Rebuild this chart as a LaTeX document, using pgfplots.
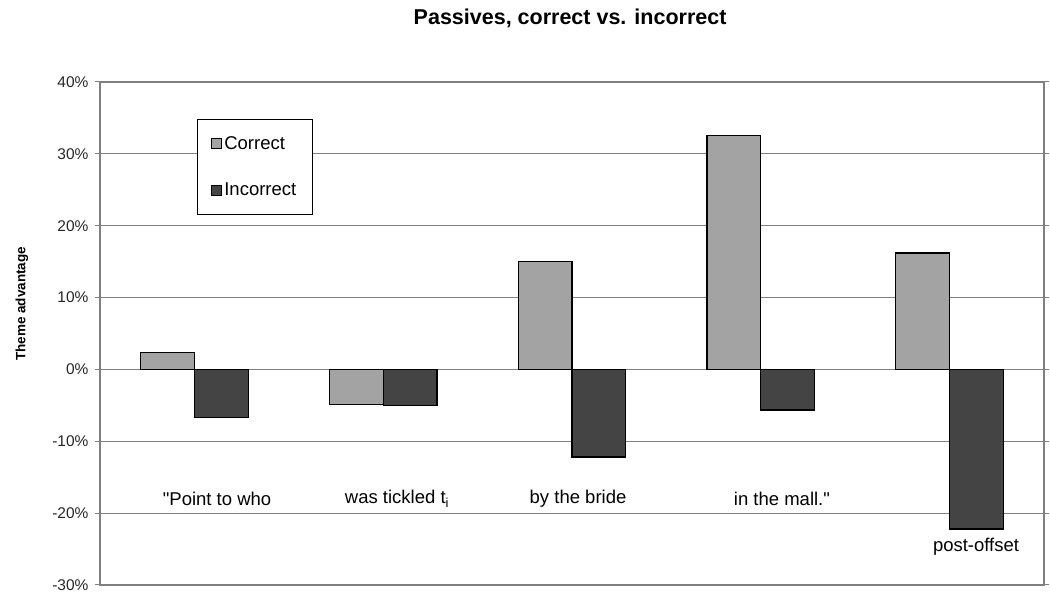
\documentclass[border=0pt]{standalone}
\usepackage{fontspec}
\setmainfont{Liberation Sans}[Ligatures=TeXOff]
\usepackage{pgfplots}
\pgfplotsset{compat=1.18}
\definecolor{corr}{HTML}{A3A3A3}
\definecolor{incorr}{HTML}{444444}
\definecolor{gridc}{HTML}{808080}
\begin{document}
\begin{tikzpicture}
\useasboundingbox (-100pt,-14pt) rectangle (950pt,585pt);
\begin{axis}[
  at={(0pt,0pt)}, anchor=south west,
  scale only axis, width=944pt, height=503pt,
  xmin=-0.5, xmax=4.5, ymin=-30, ymax=40,
  xtick=\empty,
  ytick={-30,-20,...,40},
  yticklabel={\pgfmathprintnumber{\tick}\%},
  /pgf/number format/assume math mode=true,
  yticklabel style={font=\fontsize{15.5}{18}\selectfont, text=black!85, xshift=-3pt},
  tick align=outside, major tick length=5pt,
  tick style={gridc, line width=1pt},
  ymajorgrids, grid style={gridc, line width=1.2pt},
  axis line style={gridc, line width=1.2pt},
  ybar, bar width=0.285,
  ylabel={Theme advantage},
  ylabel style={at={(axis description cs:-0.0826,0.559)}, anchor=center, font=\bfseries\fontsize{13.5}{16}\selectfont},
  title={Passives, correct vs. incorrect},
  title style={at={(axis description cs:0.498,1.115)}, anchor=center, font=\bfseries\fontsize{21.5}{24}\selectfont},
  legend style={at={(axis description cs:0.1028,0.926)}, anchor=north west,
    draw=black, line width=0.8pt, fill=white, font=\fontsize{18.5}{22}\selectfont,
    inner xsep=14pt, inner ysep=15pt, row sep=28pt,
    nodes={inner sep=2pt}},
  legend cell align=left,
  legend image code/.code={\draw[#1, line width=0.9pt] (0pt,-5pt) rectangle (10pt,5pt);},
]
\addplot[fill=corr, draw=black, line width=1.3pt, bar shift=-0.1425] coordinates {
  (0,2.4) (1,-4.85) (2,15.0) (3,32.6) (4,16.2)};
\addlegendentry{Correct}
\addplot[fill=incorr, draw=black, line width=1.3pt, bar shift=0.1425] coordinates {
  (0,-6.7) (1,-5.05) (2,-12.2) (3,-5.65) (4,-22.2)};
\addlegendentry{Incorrect}
\begin{scope}[every node/.style={font=\fontsize{18.5}{22}\selectfont, anchor=center}]
\node at (axis cs:0.120,-18) {"Point to who};
\node at (axis cs:1.073,-18) {was tickled t\textsubscript{i}};
\node at (axis cs:2.032,-18) {by the bride};
\node at (axis cs:3.112,-18) {in the mall."};
\node at (axis cs:4.140,-24.7) {post-offset};
\end{scope}
\end{axis}
\end{tikzpicture}
\end{document}
